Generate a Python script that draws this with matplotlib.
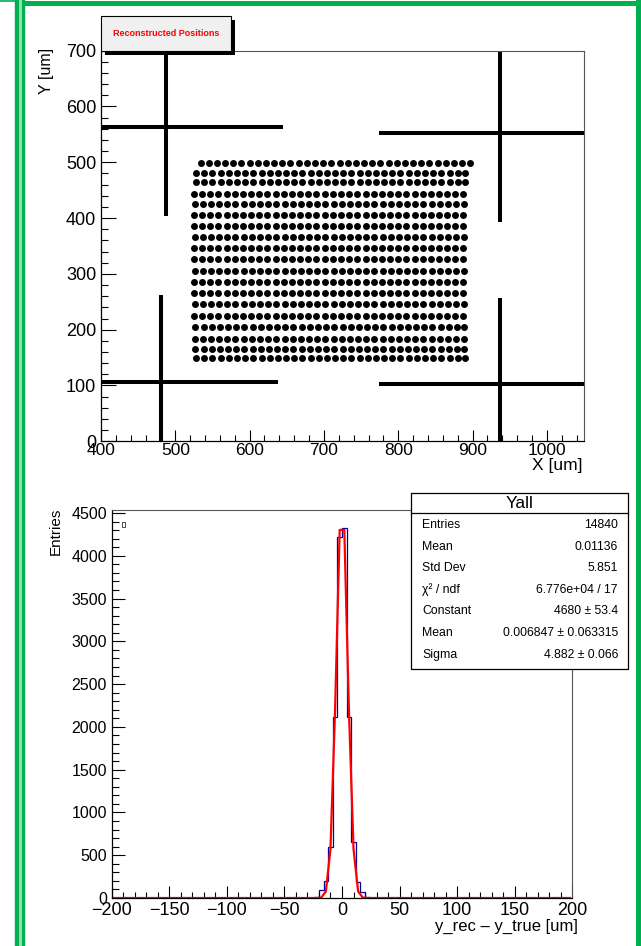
import numpy as np
import matplotlib
matplotlib.use("Agg")
import matplotlib.pyplot as plt
from matplotlib.patches import Rectangle
from matplotlib.lines import Line2D
from matplotlib.ticker import MultipleLocator

plt.rcParams["font.family"] = ["Liberation Sans", "DejaVu Sans"]

W, H = 641, 946

# ---- top pad: reconstructed positions --------------------------------------
# rows of reconstructed hits (y, um) and columns (x, um)
row_y = [498, 481, 464, 444, 425, 405, 386, 366, 346, 326,
         306, 286, 265, 246, 225, 205, 183, 165, 149]
row_shift = [4, -2, -2, -5, -4, -5, -5, -4, -5, -5,
             -4, -5, -5, -4, -5, -3, -4, -3, -2]
col_x = [530, 541, 552, 563, 574, 585, 596, 607, 618, 629, 640, 651,
         662, 673, 684, 695, 706, 717, 728, 739, 750, 761, 772, 783,
         794, 805, 816, 827, 838, 849, 860, 871, 882, 892]

# alignment crosses: vertical (x, y0, y1) and horizontal (y, x0, x1)
cross_v = [(487, 404, 700), (937, 393, 700), (481, 0, 262), (937, 0, 257)]
cross_h = [(563, 400, 645), (553, 774, 1050), (106, 400, 638), (103, 774, 1050)]

# ---- bottom pad: residual histogram -----------------------------------------
hist_edges = [-200, -28, -24, -20, -16, -12, -8, -4, 0, 4, 8, 12, 16, 20, 24, 28, 200]
hist_counts = [0, 5, 10, 94, 199, 599, 2111, 4221, 4319, 2111, 658, 190, 74, 17, 5, 0]

fit_x = [-198, -22, -18, -14, -10, -6, -2, 2, 6, 10, 14, 18, 22, 198]
fit_y = [0, 0, 5, 77, 574, 2200, 4303, 4303, 2200, 574, 77, 5, 0, 0]

stat_names = ["Entries", "Mean", "Std Dev", "χ² / ndf", "Constant", "Mean", "Sigma"]
stat_values = ["14840", "0.01136", "5.851", "6.776e+04 / 17", "4680 ± 53.4",
               "0.006847 ± 0.063315", "4.882 ± 0.066"]


def fx(px):
    return px / W


def fy(py):
    return 1 - py / H


def root_axes(ax, xmaj, xmin, ymaj, ymin, lens):
    ax.xaxis.set_major_locator(MultipleLocator(xmaj))
    ax.xaxis.set_minor_locator(MultipleLocator(xmin))
    ax.yaxis.set_major_locator(MultipleLocator(ymaj))
    ax.yaxis.set_minor_locator(MultipleLocator(ymin))
    xl, xm, yl, ym = lens
    ax.tick_params(axis="x", which="major", direction="in", length=xl, width=0.8)
    ax.tick_params(axis="x", which="minor", direction="in", length=xm, width=0.8)
    ax.tick_params(axis="y", which="major", direction="in", length=yl, width=0.8)
    ax.tick_params(axis="y", which="minor", direction="in", length=ym, width=0.8)
    for s in ("top", "right"):
        ax.spines[s].set_color("#555555")
        ax.spines[s].set_linewidth(0.8)
    for s in ("left", "bottom"):
        ax.spines[s].set_linewidth(0.9)


fig = plt.figure(figsize=(W / 100, H / 100), dpi=100)

# -- top: positions ------------------------------------------------------------
ax1 = fig.add_axes([fx(101), fy(441.3), (584 - 101) / W, (441.3 - 50.7) / H])
for x, y0, y1 in cross_v:
    ax1.plot([x, x], [y0, y1], "-", color="black", lw=2.9, solid_capstyle="butt")
for y, x0, x1 in cross_h:
    ax1.plot([x0, x1], [y, y], "-", color="black", lw=2.9, solid_capstyle="butt")
for y, dx in zip(row_y, row_shift):
    xs = np.asarray(col_x) + dx
    ax1.plot(xs, np.full(len(xs), y), "o", color="black", ms=5.0, mew=0)
ax1.set_xlim(400, 1050)
ax1.set_ylim(0, 700)
root_axes(ax1, 100, 20, 100, 20, (8, 4, 10.5, 5.3))
ax1.tick_params(axis="x", labelsize=12.5, pad=1.2)
ax1.tick_params(axis="y", labelsize=13, pad=3.5)
fig.text(fx(583), fy(465), "X [um]", ha="right", va="center", fontsize=12.5)
fig.text(fx(46), fy(48), "Y [um]", ha="center", va="top", rotation=90, fontsize=11.5)

# title pave with shadow
fig.patches.append(Rectangle((fx(105), fy(55)), 130 / W, 35 / H, transform=fig.transFigure,
                             facecolor="black", edgecolor="none", zorder=5))
fig.patches.append(Rectangle((fx(101), fy(51)), 130 / W, 35 / H, transform=fig.transFigure,
                             facecolor="#f0f0f0", edgecolor="black", lw=0.8, zorder=6))
fig.text(fx(166), fy(34), "Reconstructed Positions", ha="center", va="center",
         fontsize=6.5, fontweight="bold", color="red", zorder=7)

# -- bottom: residuals -----------------------------------------------------------
ax2 = fig.add_axes([fx(111.6), fy(898), (572.4 - 111.6) / W, (898 - 510) / H])
ax2.stairs(hist_counts, hist_edges, color="#000099", lw=0.9)
ax2.plot(fit_x, fit_y, "-", color="red", lw=1.6)
ax2.set_xlim(-200, 200)
ax2.set_ylim(0, 4535)
root_axes(ax2, 50, 10, 500, 100, (8.6, 4.3, 9.7, 4.9))
ax2.tick_params(axis="x", labelsize=13, pad=3)
ax2.tick_params(axis="y", labelsize=11.5, pad=3.3)
fig.text(fx(578), fy(926), "y_rec – y_true [um]", ha="right", va="center", fontsize=12)
fig.text(fx(56), fy(508), "Entries", ha="center", va="top", rotation=90, fontsize=11)
fig.patches.append(Rectangle((fx(121.5), fy(527)), 3.5 / W, 5 / H, transform=fig.transFigure,
                             facecolor="none", edgecolor="#333333", lw=0.6, zorder=5))

# stats box
fig.patches.append(Rectangle((fx(411), fy(669)), (628 - 411) / W, (669 - 493) / H,
                             transform=fig.transFigure, facecolor="white",
                             edgecolor="black", lw=0.9, zorder=5))
fig.add_artist(Line2D([fx(411), fx(628)], [fy(513), fy(513)], color="black", lw=0.9, zorder=6))
fig.text(fx(519.5), fy(503), "Yall", ha="center", va="center", fontsize=12.5, zorder=7)
for i, (name, val) in enumerate(zip(stat_names, stat_values)):
    yy = 525 + i * 21.6
    fig.text(fx(422), fy(yy), name, ha="left", va="center", fontsize=8.8, zorder=7)
    fig.text(fx(618), fy(yy), val, ha="right", va="center", fontsize=8.8, zorder=7)

# green canvas frame
G_DARK, G_LIGHT = "#00b050", "#8ee0ac"
fig.add_artist(Line2D([fx(20), fx(20)], [fy(0), fy(946)], color=G_DARK, lw=7.5, zorder=10))
fig.add_artist(Line2D([fx(20), fx(20)], [fy(0), fy(946)], color=G_LIGHT, lw=2.2, zorder=11))
fig.add_artist(Line2D([fx(22), fx(641)], [fy(3), fy(3)], color=G_DARK, lw=3.6, zorder=10))
fig.add_artist(Line2D([fx(0), fx(16)], [fy(1.5), fy(1.5)], color=G_DARK, lw=1.2, zorder=10))
fig.add_artist(Line2D([fx(637.5), fx(637.5)], [fy(0), fy(946)], color=G_DARK, lw=3.6, zorder=10))

fig.savefig("out.png", dpi=100)
